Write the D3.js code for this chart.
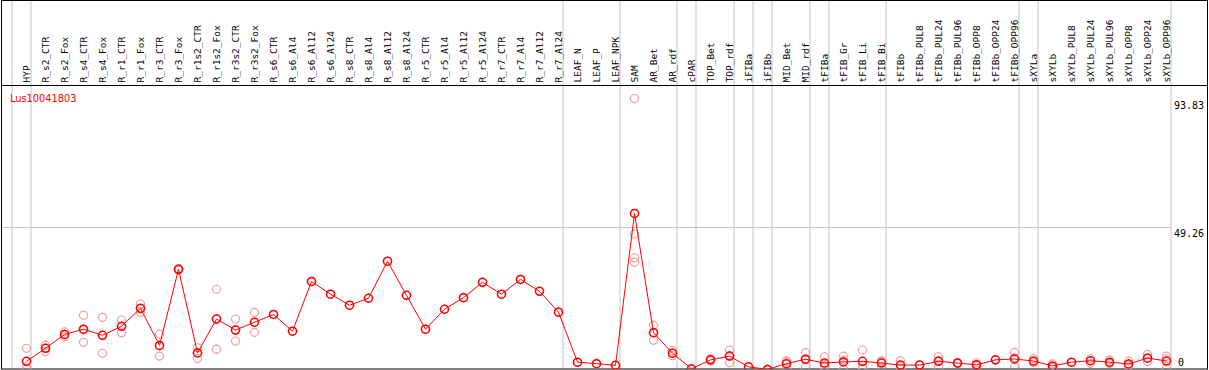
<!DOCTYPE html>
<html>
  <head>
    <meta charset="utf-8">
    <title>Lus10041803</title>
    <style>
      body { margin: 0; background: #fff; }
      svg { display: block; }
    </style>
  </head>
  <body>
    <svg width="1209" height="370"></svg>
  </body>
  <script src="https://d3js.org/d3.v7.min.js"></script>
  <script type="text/javascript">
  const geneName = 'Lus10041803';

  const categories = ['HYP','R_s2_CTR','R_s2_Fox','R_s4_CTR','R_s4_Fox','R_r1_CTR','R_r1_Fox',
    'R_r3_CTR','R_r3_Fox','R_r1s2_CTR','R_r1s2_Fox','R_r3s2_CTR','R_r3s2_Fox','R_s6_CTR',
    'R_s6_Al4','R_s6_Al12','R_s6_Al24','R_s8_CTR','R_s8_Al4','R_s8_Al12','R_s8_Al24',
    'R_r5_CTR','R_r5_Al4','R_r5_Al12','R_r5_Al24','R_r7_CTR','R_r7_Al4','R_r7_Al12','R_r7_Al24',
    'LEAF_N','LEAF_P','LEAF_NPK','SAM','AR_Bet','AR_rdf','cPAR','TOP_Bet','TOP_rdf',
    'iFIBa','iFIBb','MID_Bet','MID_rdf','tFIBa','tFIB_Gr','tFIB_Li','tFIB_Bi','tFIBb',
    'tFIBb_PUL8','tFIBb_PUL24','tFIBb_PUL96','tFIBb_OPP8','tFIBb_OPP24','tFIBb_OPP96',
    'sXYLa','sXYLb','sXYLb_PUL8','sXYLb_PUL24','sXYLb_PUL96','sXYLb_OPP8','sXYLb_OPP24','sXYLb_OPP96'];

  // mean expression per sample
  const means = [3.0, 7.5, 12.3, 14.1, 12.0, 15.1, 21.3, 8.5, 34.8, 5.9, 17.6, 13.8, 16.5, 19.2,
    13.4, 30.6, 26.2, 22.4, 24.8, 37.6, 25.8, 14.1, 21.0, 25.0, 30.3, 26.2, 31.3, 27.2, 20.0,
    2.7, 2.2, 1.6, 54.1, 12.9, 5.8, 0.4, 3.5, 4.8, 1.1, 0.2, 2.2, 3.7, 2.4, 2.8, 3.0, 2.4, 1.7,
    1.7, 3.0, 2.4, 1.8, 3.5, 3.8, 3.1, 1.4, 2.7, 3.2, 2.7, 2.1, 4.1, 3.1];

  // single replicates (faint circles)
  const replicates = [
    [7.5, 1.1, 0.4], [8.6, 7.6, 6.3], [13.2, 12.2, 11.5], [18.9, 13.8, 9.6], [18.2, 12.0, 5.8],
    [17.3, 15.1, 12.9], [22.8, 21.2, 19.9], [12.4, 8.3, 4.8], [35.1, 34.8, 34.5], [7.7, 6.0, 4.0],
    [27.9, 17.7, 7.2], [17.6, 13.8, 10.0], [19.9, 16.6, 13.0], [19.2], [13.4], [30.6], [26.2],
    [22.4], [24.8], [37.6], [25.8], [14.1], [21.0], [25.0], [30.3], [26.2], [31.3], [27.2], [20.0],
    [2.7], [2.2], [1.6], [93.83, 47.0, 38.8, 37.2], [15.5, 12.9, 10.3], [6.7, 5.8, 4.9], [0.4],
    [3.9, 3.5, 3.1], [6.9, 5.0, 2.5], [1.1], [0.2], [3.2, 2.9, 0.5], [6.0, 3.9, 1.2],
    [4.6, 1.5, 1.1], [4.8, 3.4, 0.2], [6.9, 1.5, 0.6], [3.2, 2.9, 1.1], [3.2, 1.3, 0.6], [1.7],
    [4.6, 3.3, 1.1], [2.6, 2.4, 2.2], [2.5, 1.7, 1.2], [3.5], [6.1, 4.2, 1.1], [4.0, 2.7, 2.6],
    [2.1, 1.2, 0.9], [2.7], [4.0, 3.2, 2.3], [3.5, 2.4, 2.2], [3.1, 1.8, 1.4], [5.4, 4.1, 2.9],
    [4.8, 3.9, 0.6]];

  // group separators are drawn after these samples ('' = before the first one)
  const separators = ['', 'HYP', 'R_r7_Al24', 'LEAF_NPK', 'AR_rdf', 'cPAR', 'TOP_rdf', 'iFIBa',
    'iFIBb', 'MID_rdf', 'tFIBa', 'tFIB_Bi', 'tFIBb_OPP96', 'sXYLa', 'sXYLb_OPP96'];

  const yTicks = [0, 49.26, 93.83];
  const gridValues = [49.26];

  const W = 1209;
  const plotTop = 85, plotBottom = 369;

  const svg = d3.select('svg');

  const x = d3.scalePoint().domain(categories).range([26.5, 1166.5]);
  const y = d3.scaleLinear().domain([0, 93.83]).range([370, 98.5]);

  function sepX(name) {
    if (name === '') return x(categories[0]) - x.step() + 4;
    return x(name) + 4;
  }

  // gray separators, whole height
  svg.append('g').selectAll('line').data(separators).enter().append('line')
    .attr('x1', d => sepX(d) + 0.5).attr('x2', d => sepX(d) + 0.5)
    .attr('y1', 0).attr('y2', plotBottom)
    .attr('stroke', '#c4c4c4').attr('stroke-width', 1);

  // horizontal grid
  svg.append('g').selectAll('line').data(gridValues).enter().append('line')
    .attr('x1', 1).attr('x2', sepX('sXYLb_OPP96'))
    .attr('y1', d => Math.round(y(d)) + 0.5).attr('y2', d => Math.round(y(d)) + 0.5)
    .attr('stroke', '#c4c4c4').attr('stroke-width', 1);

  // frame
  svg.append('rect').attr('x', 1.5).attr('y', 0.5).attr('width', W - 3).attr('height', plotBottom - 0.5)
    .attr('fill', 'none').attr('stroke', '#000').attr('stroke-width', 1);
  svg.append('line').attr('x1', 1).attr('x2', W - 1).attr('y1', plotTop + 0.5).attr('y2', plotTop + 0.5)
    .attr('stroke', '#000').attr('stroke-width', 1);

  // sample labels
  svg.append('g').selectAll('text').data(categories).enter().append('text')
    .attr('transform', d => 'translate(' + (x(d) + 3.5) + ',' + (plotTop - 2.5) + ') rotate(-90)')
    .attr('font-family', 'DejaVu Sans Mono, monospace')
    .attr('font-size', '9.5px')
    .attr('fill', '#000')
    .text(d => d);

  // y labels at the right
  svg.append('g').selectAll('text').data(yTicks).enter().append('text')
    .attr('x', d => d === 0 ? 1178 : 1174)
    .attr('y', d => d === 0 ? y(d) - 4 : y(d) + 10)
    .attr('font-family', 'DejaVu Sans Mono, monospace')
    .attr('font-size', '10px')
    .attr('fill', '#000')
    .text(d => d);

  // gene name
  svg.append('text').attr('x', 10).attr('y', 101.5)
    .attr('font-family', 'DejaVu Sans, sans-serif')
    .attr('font-size', '9.8px')
    .attr('fill', '#ff0000')
    .text(geneName);

  svg.append('clipPath').attr('id', 'plotclip').append('rect')
    .attr('x', 2).attr('y', plotTop + 1).attr('width', W - 4).attr('height', plotBottom - plotTop - 1);

  const plot = svg.append('g').attr('clip-path', 'url(#plotclip)');

  // circle with tiny ticks, like the original marker
  function marker(r) {
    const p = d3.path();
    p.moveTo(r, 0); p.arc(0, 0, r, 0, 2 * Math.PI);
    p.moveTo(0, -r); p.lineTo(0, -r - 0.8);
    p.moveTo(0, r); p.lineTo(0, r + 0.8);
    p.moveTo(-r, 0); p.lineTo(-r - 0.8, 0);
    p.moveTo(r, 0); p.lineTo(r + 0.8, 0);
    return p.toString();
  }

  const reps = [];
  categories.forEach(function(c, i) {
    replicates[i].forEach(function(v) { reps.push({ c: c, v: v }); });
  });

  plot.append('g').selectAll('path').data(reps).enter().append('path')
    .attr('d', marker(4))
    .attr('transform', d => 'translate(' + x(d.c) + ',' + y(d.v) + ')')
    .attr('fill', 'none').attr('stroke', '#ee9a9a').attr('stroke-width', 1.1);

  const line = d3.line().x((d, i) => x(categories[i])).y(d => y(d));
  plot.append('path').datum(means).attr('d', line)
    .attr('fill', 'none').attr('stroke', '#ff0000').attr('stroke-width', 1);

  plot.append('g').selectAll('path').data(means).enter().append('path')
    .attr('d', marker(4))
    .attr('transform', (d, i) => 'translate(' + x(categories[i]) + ',' + y(d) + ')')
    .attr('fill', 'none').attr('stroke', '#ff0000').attr('stroke-width', 1.5);
  </script>
</html>
